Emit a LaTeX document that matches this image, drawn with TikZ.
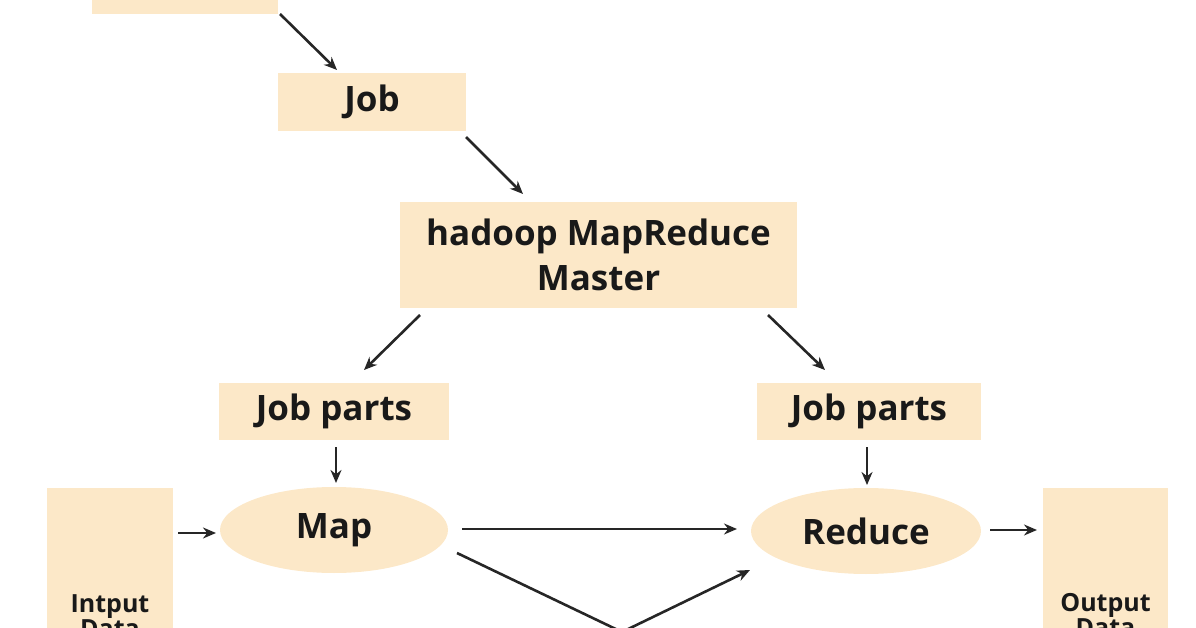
\documentclass[tikz,border=0pt]{standalone}
\usepackage{fontspec}
\setmainfont{Open Sans}
\usetikzlibrary{shapes.geometric,arrows.meta}
\definecolor{box}{HTML}{FCE8C8}
\begin{document}
\begin{tikzpicture}[x=1pt,y=-1pt,
  bx/.style={fill=box,draw=none,inner sep=0pt,font=\bfseries\fontsize{35}{45}\selectfont,text=black!90},
  el/.style={ellipse,fill=box,draw=none,inner sep=0pt,font=\bfseries\fontsize{35}{40}\selectfont,text=black!90},
  ar/.style={-{Stealth[length=13pt,width=11pt]},line width=2.6pt,black!85},
  ln/.style={line width=2.6pt,black!85}]
\useasboundingbox (0,0) rectangle (1196,628);
\begin{scope}
\clip (0,0) rectangle (1196,628);
\node[bx,minimum width=186pt,minimum height=60pt] (top) at (185,-16) {};
\node[bx,minimum width=188pt,minimum height=58pt] (job) at (372,102) {Job};
\node[bx,minimum width=397pt,minimum height=106pt,align=center] (master) at (598.5,255) {hadoop MapReduce\\Master};
\node[bx,minimum width=230pt,minimum height=57pt] (jpl) at (334,411.5) {Job parts};
\node[bx,minimum width=224pt,minimum height=57pt] (jpr) at (869,411.5) {Job parts};
\node[el,minimum width=228pt,minimum height=86pt] (map) at (334,530) {Map};
\node[el,minimum width=230pt,minimum height=86pt] (reduce) at (866,531) {Reduce};
\node[bx,minimum width=126pt,minimum height=180pt,anchor=north,align=center,font=\bfseries\fontsize{25}{25}\selectfont] (in) at (110,488) {\\[68pt]Intput\\Data};
\node[bx,minimum width=125pt,minimum height=180pt,anchor=north,align=center,font=\bfseries\fontsize{25}{25}\selectfont] (out) at (1105.5,488) {\\[66pt]Output\\Data};
\coordinate (x) at (622,632);
\coordinate (a1s) at (280,14); \coordinate (a1e) at (337,70);
\coordinate (a2s) at (466,137); \coordinate (a2e) at (523,194);
\draw[ar] (a1s) -- (a1e);
\draw[ar] (a2s) -- (a2e);
\coordinate (a3s) at (420,315); \coordinate (a3e) at (364,370);
\coordinate (a4s) at (768,315); \coordinate (a4e) at (825,370);
\draw[ar] (a3s) -- (a3e);
\draw[ar] (a4s) -- (a4e);
\coordinate (a5s) at (336,447); \coordinate (a5e) at (336,483);
\coordinate (a6s) at (867,447); \coordinate (a6e) at (867,485);
\draw[ar] (a5s) -- (a5e);
\draw[ar] (a6s) -- (a6e);
\coordinate (a7s) at (178,533); \coordinate (a7e) at (216,533);
\coordinate (a8s) at (462,529); \coordinate (a8e) at (737,529);
\coordinate (a9s) at (990,530); \coordinate (a9e) at (1037,530);
\draw[ar] (a7s) -- (a7e);
\draw[ar] (a8s) -- (a8e);
\draw[ar] (a9s) -- (a9e);
\coordinate (a10s) at (457,553); \coordinate (a10e) at (750,570);
\draw[ln] (a10s) -- (x);
\draw[ar] (x) -- (a10e);
\end{scope}
\end{tikzpicture}
\end{document}
